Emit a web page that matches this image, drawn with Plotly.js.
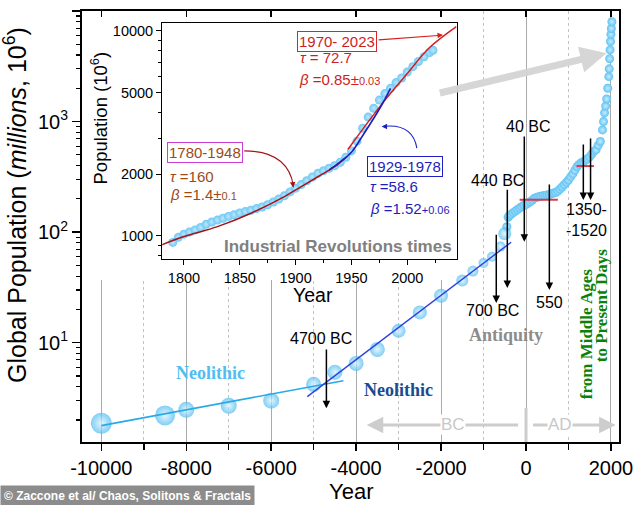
<!DOCTYPE html>
<html><head><meta charset="utf-8">
<script src="https://cdn.plot.ly/plotly-3.0.1.min.js"></script>
<style>html,body{margin:0;padding:0;background:#fff}#chart{width:634px;height:505px}</style>
</head><body><div id="chart"></div>
<script>
// ---------- DATA ----------
// Early (large sphere) estimates, years and population in millions
const earlyYears = [-10000,-8500,-8000,-7000,-6000,-5000,-4500,-4000,-3500,-3000,-2500,-2000,-1500,-1250,-1000,-800,-600,-500];
const earlyPop   = [1.87,2.2,2.47,2.69,2.99,4.2,5.4,6.5,8.7,12.8,18.8,26.6,36.5,44.5,52.5,60,74,97];
// Dense series from antiquity to present
const bandYears = [-450,-420,-400,-350,-300,-250,-200,-150,-100,-50,0,50,100,150,200,250,300,350,400,450,500,550,600,650,700,750,800,850,900,950,1000,1050,1100,1150,1200,1250,1300,1350,1400,1450,1500,1550,1600,1650,1700,1750,1800,1825,1850,1875,1900,1925,1950,1960,1970,1980,1990,2000,2010,2023];
const bandPop   = [112,136,140,145,150,155,160,165,170,175,178,183,188,195,203,206,209,211,213,215,217,219,222,226,228,235,245,256,268,282,296,316,336,362,390,410,424,433,446,462,480,508,540,555,610,660,840,1000,1200,1380,1600,2000,2550,3000,3700,4450,5300,6150,6950,8000];
// Industrial revolution times (inset)
const indYears = [1790,1795,1800,1805,1810,1815,1820,1825,1830,1835,1840,1845,1850,1855,1860,1865,1870,1875,1880,1885,1890,1895,1900,1905,1910,1915,1920,1925,1930,1935,1940,1945,1950,1955,1960,1965,1970,1975,1980,1985,1990,1995,2000,2005,2010,2015,2020,2023];
const indPop   = [930,985,1020,1045,1070,1100,1140,1170,1195,1220,1245,1270,1295,1315,1335,1360,1385,1420,1465,1515,1570,1640,1710,1780,1860,1940,2020,2080,2140,2200,2290,2420,2600,2900,3350,3800,4200,4600,4950,5250,5600,5900,6300,6700,7100,7480,7850,8050];
// Fitted curves
const fitNeoAX = [-10000,-4300];  const fitNeoAY = [1.78,4.53];
const fitNeoBX = [-5150,-350];    const fitNeoBY = [3.25,81];
const plateau1X = [-150,750];     const plateau1Y = [196,196];
const plateau2X = [1190,1600];    const plateau2Y = [396,396];
const fit1780X = [1780,1800,1830,1860,1890,1905,1920,1935,1946];
const fit1780Y = [904,993,1110,1291,1556,1740,1944,2177,2438];
const fit1929X = [1930,1940,1950,1960,1970,1978,1985];
const fit1929Y = [2100,2300,2560,3080,3750,4440,5250];
const fit1970X = [1947,1965,1980,2000,2020,2044];
const fit1970Y = [2650,3600,4600,6200,8300,10500];
// Events marked with arrows
const eventYears  = [-4700,-700,-440,-40,550,1350,1520];
// Tick labels
const mainXTicks = [-10000,-8000,-6000,-4000,-2000,0,2000];
const mainXTickText = ['-10000','-8000','-6000','-4000','-2000','0','2000'];
const mainXMinor = [-9000,-7000,-5000,-3000,-1000,1000];
const mainYTicks = [10,100,1000,10000];
const mainYTickText = ['10<sup>1</sup>','10<sup>2</sup>','10<sup>3</sup>','10<sup>4</sup>'];
const mainYMinor = [2,3,4,5,6,7,8,9,20,30,40,50,60,70,80,90,200,300,400,500,600,700,800,900,2000,3000,4000,5000,6000,7000,8000,9000];
const insetXTicks = [1800,1850,1900,1950,2000];
const insetYTicks = [1000,2000,5000,10000];
const insetYTickText = ['1000','2000','5000','10000'];
const insetYMinor = [800,900,3000,4000,6000,7000,8000,9000];

// ---------- STYLE ----------
const earlySize = [21,20,16,16,16,15,15,15,15,14,14,14,12,11,10,10,10,13];
const SANS = 'Arial, Liberation Sans, sans-serif';
const SERIF = 'Liberation Serif, Times New Roman, serif';
const L = Math.log10;
const sky = 'rgb(75,185,240)';

const traces = [
  {x: bandYears, y: bandPop, type:'scatter', mode:'markers', xaxis:'x', yaxis:'y',
   marker:{size:9, color:'rgb(95,195,243)', gradient:{type:'radial', color:'rgb(200,236,253)'}, line:{width:0}}},
  {x: earlyYears, y: earlyPop, type:'scatter', mode:'markers', xaxis:'x', yaxis:'y',
   marker:{size:earlySize, color:sky, gradient:{type:'radial', color:'rgb(215,242,255)'}, line:{width:0}}},
  {x: fitNeoAX, y: fitNeoAY, type:'scatter', mode:'lines', line:{color:'rgb(40,170,230)', width:1.6}},
  {x: fitNeoBX, y: fitNeoBY, type:'scatter', mode:'lines', line:{color:'rgb(45,65,225)', width:1.4}},
  {x: plateau1X, y: plateau1Y, type:'scatter', mode:'lines', line:{color:'rgb(215,60,80)', width:2}},
  {x: plateau2X, y: plateau2Y, type:'scatter', mode:'lines', line:{color:'rgb(215,60,80)', width:2}},
  {x: [], y: [], type:'scatter', mode:'markers', xaxis:'x3', yaxis:'y'},
  // inset
  {x: indYears, y: indPop, type:'scatter', mode:'markers', xaxis:'x2', yaxis:'y2',
   marker:{size:9, color:'rgb(110,200,245)', gradient:{type:'radial', color:'rgb(190,232,252)'}, line:{width:0}}},
  {x: fit1780X, y: fit1780Y, type:'scatter', mode:'lines', xaxis:'x2', yaxis:'y2', line:{color:'rgb(165,20,25)', width:1.5, shape:'spline'}},
  {x: fit1970X, y: fit1970Y, type:'scatter', mode:'lines', xaxis:'x2', yaxis:'y2', line:{color:'rgb(215,30,30)', width:1.5, shape:'spline'}},
  {x: fit1929X, y: fit1929Y, type:'scatter', mode:'lines', xaxis:'x2', yaxis:'y2', line:{color:'rgb(30,30,190)', width:1.6, shape:'spline'}}
];

// annotation helpers
function txt(x, y, text, size, color, extra) {
  return Object.assign({xref:'x', yref:'y', x:x, y:y, text:text, showarrow:false,
    font:{family:SANS, size:size, color:color}}, extra || {});
}
function vArrow(x, tail, head, extra) {
  return Object.assign({xref:'x', yref:'y', axref:'x', ayref:'y', x:x, y:L(head), ax:x, ay:L(tail),
    text:'', showarrow:true, arrowhead:2, arrowsize:1, arrowwidth:1.5, arrowcolor:'black', standoff:0}, extra || {});
}
function itxt(x, y, text, size, color, extra) {
  return Object.assign({xref:'x2', yref:'y2', x:x, y:L(y), text:text, showarrow:false,
    font:{family:SANS, size:size, color:color}}, extra || {});
}
function ptxt(px, py, text, size, extra) {
  return Object.assign({xref:'paper', yref:'paper', x:(px-82)/537, y:(442-py)/431, xanchor:'center', yanchor:'middle',
    text:text, showarrow:false, font:{family:SANS, size:size, color:'black'}}, extra || {});
}

const annotations = [
  // event arrows
  vArrow(eventYears[0], 8.96, 2.55),
  vArrow(eventYears[1], 97.5, 22.9),
  vArrow(eventYears[2], 250, 31.3),
  vArrow(eventYears[3], 755, 81.8),
  vArrow(eventYears[4], 278, 30),
  vArrow(eventYears[5], 640, 195),
  vArrow(eventYears[6], 724, 195),
  txt(eventYears[0], L(11.0), '4700 BC', 16, 'black', {xshift:-5}),
  txt(eventYears[1], L(19.4), '700 BC', 16, 'black', {xshift:-4}),
  txt(eventYears[2], L(296), '440 BC', 16, 'black', {xshift:-10}),
  txt(eventYears[3], L(910), '40 BC', 16, 'black', {xshift:4}),
  txt(eventYears[4], L(22.9), '550', 16, 'black'),
  txt(1435, L(128), '1350-<br>-1520', 16, 'black'),
  // era labels
  txt(-7424, 0.723, '<b>Neolithic</b>', 18, 'rgb(80,190,240)', {font:{family:SERIF, size:18, color:'rgb(80,190,240)'}}),
  txt(-3005, 0.572, '<b>Neolithic</b>', 18, 'rgb(25,75,145)', {font:{family:SERIF, size:18, color:'rgb(25,75,145)'}}),
  txt(-478, 1.07, '<b>Antiquity</b>', 18, 'rgb(140,140,140)', {font:{family:SERIF, size:18, color:'rgb(140,140,140)'}}),
  txt(1428, 1.074, '<b>from Middle Ages</b>', 17, 'rgb(10,130,10)', {textangle:-90, font:{family:SERIF, size:17, color:'rgb(10,130,10)'}}),
  txt(1781, 1.336, '<b>to Present Days</b>', 17, 'rgb(10,130,10)', {textangle:-90, font:{family:SERIF, size:17, color:'rgb(10,130,10)'}}),
  // BC / AD arrows
  {xref:'x', yref:'y', axref:'x', ayref:'y', x:-3750, y:0.256, ax:-150, ay:0.256, text:'', showarrow:true,
   arrowhead:2, arrowsize:1.1, arrowwidth:3, arrowcolor:'rgb(205,205,205)', standoff:0},
  {xref:'x', yref:'y', axref:'x', ayref:'y', x:2110, y:0.256, ax:130, ay:0.256, text:'', showarrow:true,
   arrowhead:2, arrowsize:1.1, arrowwidth:3, arrowcolor:'rgb(205,205,205)', standoff:0},
  txt(-1718, 0.256, 'BC', 17, 'rgb(200,200,200)', {bgcolor:'white', borderpad:0}),
  txt(800, 0.256, 'AD', 17, 'rgb(200,200,200)', {bgcolor:'white', borderpad:0}),
  // big grey arrow from inset to data
  {xref:'x', yref:'y', axref:'x', ayref:'y', x:1899, y:3.617, ax:-2064, ay:3.255, text:'', showarrow:true,
   arrowhead:2, arrowsize:0.75, arrowwidth:7, arrowcolor:'rgba(212,212,212,0.95)', standoff:0},
  // inset texts
  itxt(1818.9, 2541, '1780-1948', 15, 'rgb(155,75,25)', {bordercolor:'rgb(205,60,215)', borderwidth:1, borderpad:1}),
  itxt(1785.7, 1941, '<i>τ</i> =160', 15, 'rgb(155,75,25)', {xanchor:'left'}),
  itxt(1785.7, 1585, '<i>β</i> =1.4±<span style="font-size:11px">0.1</span>', 15, 'rgb(155,75,25)', {xanchor:'left'}),
  itxt(1936.9, 8930, '1970- 2023', 15, 'rgb(205,30,30)', {bordercolor:'rgb(215,40,40)', borderwidth:1, borderpad:1}),
  itxt(1902, 7450, '<i>τ</i> = 72.7', 15, 'rgb(205,30,30)', {xanchor:'left'}),
  itxt(1901, 5770, '<i>β</i> =0.85±<span style="font-size:11px">0.03</span>', 15, 'rgb(205,30,30)', {xanchor:'left'}),
  itxt(1998.1, 2193, '1929-1978', 15, 'rgb(30,30,190)', {bordercolor:'rgb(30,30,200)', borderwidth:1, borderpad:1}),
  itxt(1964.9, 1738, '<i>τ</i> =58.6', 15, 'rgb(30,30,190)', {xanchor:'left'}),
  itxt(1964.9, 1365, '<i>β</i> =1.52<span style="font-size:11px">+0.06</span>', 15, 'rgb(30,30,190)', {xanchor:'left'}),
  itxt(1937.6, 887, '<b>Industrial Revolutions times</b>', 17, 'rgb(128,128,128)'),
  // inset arrows
  {xref:'x2', yref:'y2', axref:'x2', ayref:'y2', x:2032, y:L(9550), ax:1973, ay:L(9040), text:'', showarrow:true,
   arrowhead:2, arrowsize:1, arrowwidth:1.1, arrowcolor:'rgb(215,30,30)', standoff:0},
  {xref:'x2', yref:'y2', x:1898, y:L(1720), ax:-1, ay:-7, text:'', showarrow:true,
   arrowhead:2, arrowsize:1, arrowwidth:1.1, arrowcolor:'rgb(165,20,25)', standoff:0},
  {xref:'x2', yref:'y2', x:1977, y:L(3420), ax:7, ay:0, text:'', showarrow:true,
   arrowhead:2, arrowsize:1, arrowwidth:1.1, arrowcolor:'rgb(30,30,200)', standoff:0},
  // axis titles
  ptxt(15, 205, 'Global Population (<i>millions</i>, 10<sup>6</sup>)', 25, {textangle:-90}),
  ptxt(351, 492, 'Year', 22),
  ptxt(100, 118.5, 'Population (10<sup>6</sup>)', 18.5, {textangle:-90}),
  ptxt(312.5, 295, 'Year', 19.5),
  // credit
  {xref:'paper', yref:'paper', x:-82/537, y:(442-496)/431, xanchor:'left', yanchor:'middle',
   text:'<b>© Zaccone et al/ Chaos, Solitons &amp; Fractals</b>', showarrow:false,
   bgcolor:'rgb(140,140,140)', borderpad:3, font:{family:'Liberation Sans Narrow, Arial Narrow, Arial', size:12, color:'white'}}
];

const shapes = [
  // white area behind the inset hides the main grid there
  {type:'rect', layer:'between', xref:'x', yref:'y', x0:-10455, x1:-1553, y0:36.9, y1:10000,
   fillcolor:'white', line:{width:0}},
  // BC/AD separator
  {type:'line', xref:'x', yref:'paper', x0:0, x1:0, y0:0, y1:0.079, line:{color:'rgb(205,205,205)', width:3}},
  // curved arrows in the inset
  {type:'path', xref:'x2', yref:'y2', path:'M1854,2600 Q1893,2600 1898,1760', line:{color:'rgb(165,20,25)', width:1.1}},
  {type:'path', xref:'x2', yref:'y2', path:'M2008.6,2680 Q2005,3519 1980,3430', line:{color:'rgb(30,30,200)', width:1.1}}
];

const layout = {
  width:634, height:505,
  margin:{l:82, r:15, t:11, b:63},
  paper_bgcolor:'white', plot_bgcolor:'white',
  showlegend:false,
  font:{family:SANS, color:'black'},
  xaxis:{range:[-10455,2190], tickmode:'array', tickvals:mainXTicks, ticktext:mainXTickText,
    ticks:'outside', ticklen:7, tickwidth:1.5, tickcolor:'black',
    tickfont:{family:SANS, size:20, color:'black'},
    showline:true, linewidth:2, linecolor:'black', mirror:true, zeroline:false,
    showgrid:true, gridcolor:'rgb(170,170,170)', gridwidth:1,
    minor:{tickmode:'array', tickvals:mainXMinor, ticks:'outside', ticklen:6, tickwidth:1.5, tickcolor:'black',
      showgrid:true, gridcolor:'rgb(195,195,195)', griddash:'dot', gridwidth:1}},
  xaxis3:{overlaying:'x', anchor:'y', side:'top', range:[-10455,2190], tickmode:'array', tickvals:mainXTicks,
    ticks:'inside', ticklen:6, tickwidth:1.5, tickcolor:'black', showticklabels:false,
    showgrid:false, zeroline:false, showline:false},
  yaxis:{type:'log', range:[0.102,4.0], tickmode:'array', tickvals:mainYTicks, ticktext:mainYTickText,
    ticks:'outside', ticklen:8, tickwidth:1.5, tickcolor:'black',
    tickfont:{family:SANS, size:20, color:'black'},
    showline:true, linewidth:2, linecolor:'black', mirror:true, zeroline:false, showgrid:false,
    minor:{tickmode:'array', tickvals:mainYMinor, ticks:'outside', ticklen:4, tickwidth:1.2, tickcolor:'black', showgrid:false}},
  xaxis2:{domain:[0.1495,0.6978], anchor:'y2', range:[1780.6,2044.3], tickmode:'array', tickvals:insetXTicks,
    ticks:'outside', ticklen:5, tickwidth:1, tickcolor:'black',
    tickfont:{family:SANS, size:14.5, color:'black'},
    showline:true, linewidth:1.2, linecolor:'black', mirror:true, zeroline:false, showgrid:false,
    minor:{dtick:25, tick0:1800, ticks:'outside', ticklen:3, tickwidth:1, tickcolor:'black', showgrid:false}},
  yaxis2:{domain:[0.4239,0.9715], anchor:'x2', type:'log', range:[2.886,4.0376], tickmode:'array',
    tickvals:insetYTicks, ticktext:insetYTickText,
    ticks:'outside', ticklen:5, tickwidth:1, tickcolor:'black',
    tickfont:{family:SANS, size:14.5, color:'black'},
    showline:true, linewidth:1.2, linecolor:'black', mirror:true, zeroline:false, showgrid:false,
    minor:{tickmode:'array', tickvals:insetYMinor, ticks:'outside', ticklen:3, tickwidth:1, tickcolor:'black', showgrid:false}},
  annotations: annotations,
  shapes: shapes
};

Plotly.newPlot('chart', traces, layout, {displayModeBar:false, staticPlot:true});
</script></body></html>
